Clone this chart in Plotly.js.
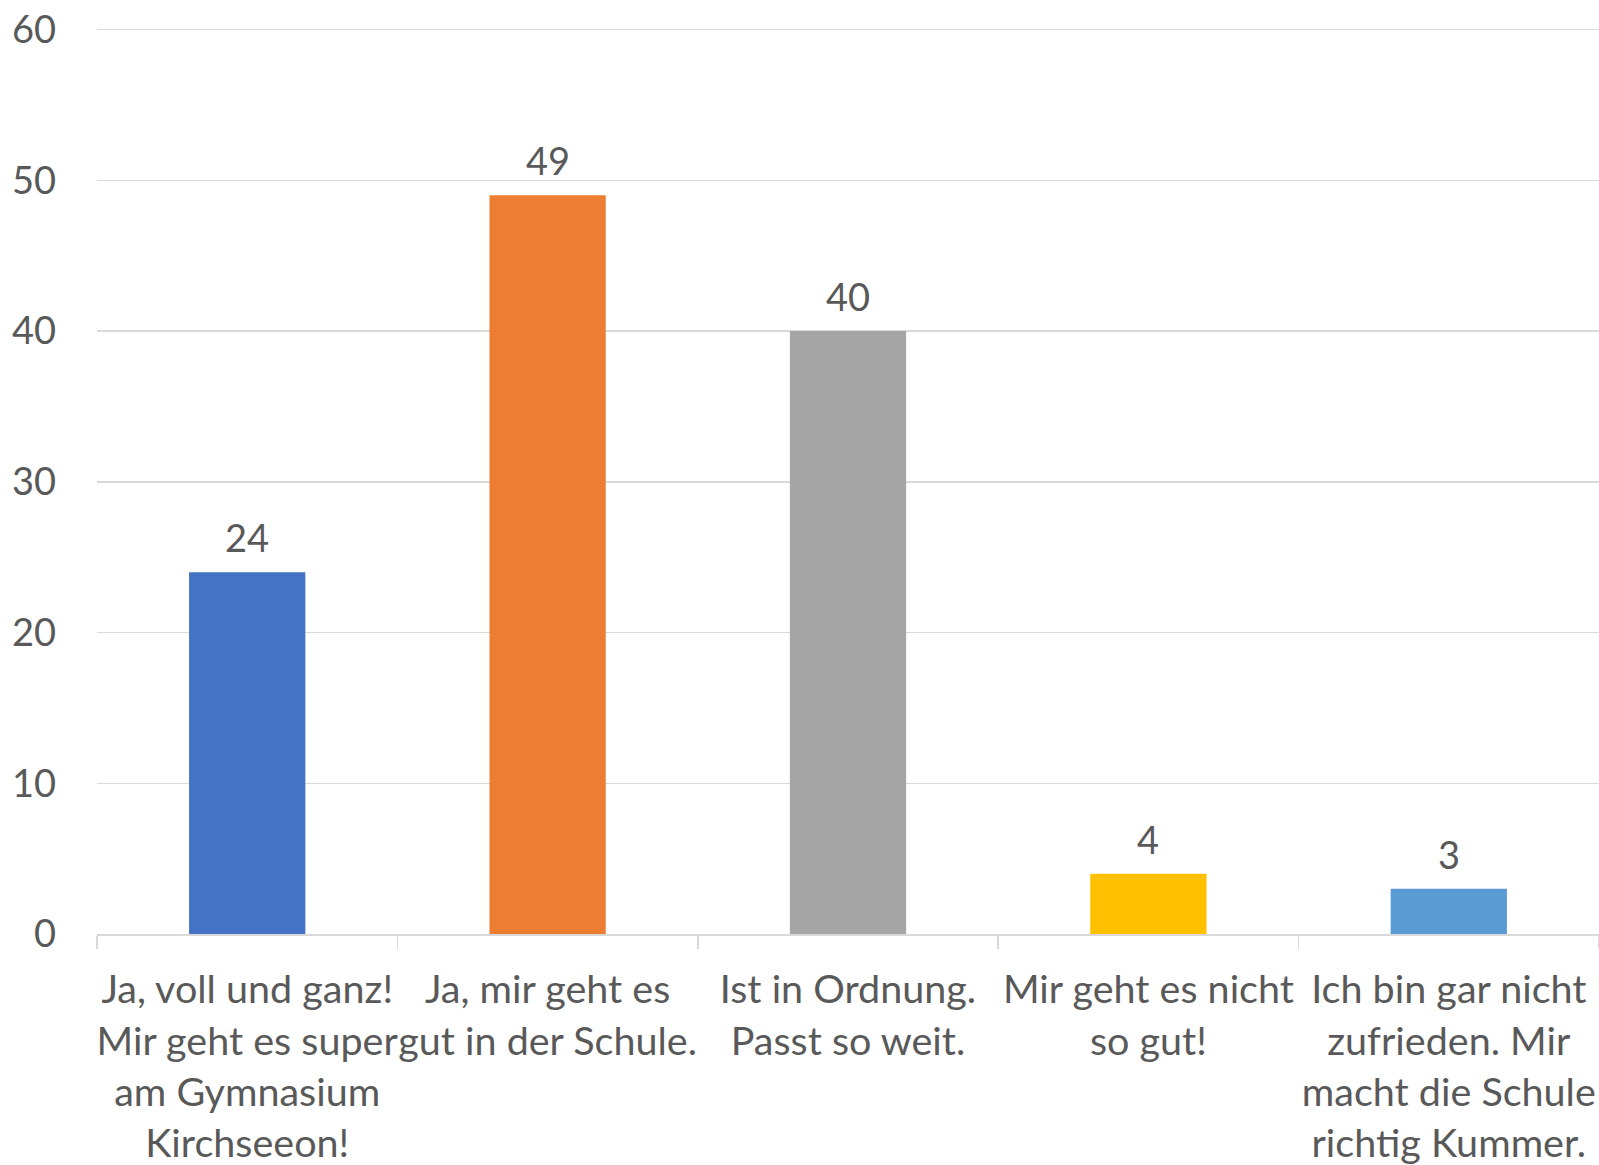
<!DOCTYPE html>
<html>
<head>
<meta charset="utf-8">
<script src="https://cdn.plot.ly/plotly-3.0.1.min.js"></script>
<style>html,body{margin:0;padding:0;background:#fff;}#chart{width:1599px;height:1165px;}</style>
</head>
<body>
<div id="chart"></div>
<script>
const categories = [
  "Ja, voll und ganz!<br>Mir geht es super<br>am Gymnasium<br>Kirchseeon!",
  "Ja, mir geht es<br>gut in der Schule.",
  "Ist in Ordnung.<br>Passt so weit.",
  "Mir geht es nicht<br>so gut!",
  "Ich bin gar nicht<br>zufrieden. Mir<br>macht die Schule<br>richtig Kummer."
];
const values = [24, 49, 40, 4, 3];
const barColors = ["#4472C4", "#ED7D31", "#A5A5A5", "#FFC000", "#5B9BD5"];
const yTicks = [0, 10, 20, 30, 40, 50, 60];

const FONT = "Lato, 'Open Sans', sans-serif";
const TXT = "#595959";

const trace = {
  type: "bar",
  x: categories,
  y: values,
  marker: {color: barColors},
  hoverinfo: "none"
};

const annotations = categories.map((c, i) => ({
  x: c, y: values[i], xref: "x", yref: "y",
  text: String(values[i]), showarrow: false,
  yanchor: "bottom", yshift: 10,
  font: {family: FONT, size: 38, color: TXT}
}));

const layout = {
  width: 1599, height: 1165,
  margin: {l: 97, r: 0, t: 28, b: 231},
  paper_bgcolor: "#fff", plot_bgcolor: "#fff",
  bargap: 0.613,
  showlegend: false,
  font: {family: FONT, size: 38, color: TXT},
  xaxis: {
    type: "category",
    automargin: false,
    tickangle: 0,
    showline: true, linecolor: "#D9D9D9", linewidth: 2,
    ticks: "outside", tickson: "boundaries", ticklen: 13, tickcolor: "#D9D9D9", tickwidth: 1.5,
    showgrid: false, zeroline: false,
    tickfont: {family: FONT, size: 39.5, color: TXT},
    ticklabelstandoff: 20,
    fixedrange: true
  },
  yaxis: {
    range: [0, 60.1],
    tickvals: yTicks,
    ticktext: yTicks.map(String),
    automargin: false,
    showgrid: true, gridcolor: "#D9D9D9", gridwidth: 1.5,
    zeroline: false, showline: false, ticks: "",
    ticklabelstandoff: 40,
    tickfont: {family: FONT, size: 38, color: TXT},
    fixedrange: true
  },
  annotations: annotations
};

Plotly.newPlot("chart", [trace], layout, {displayModeBar: false, staticPlot: true});
</script>
</body>
</html>
